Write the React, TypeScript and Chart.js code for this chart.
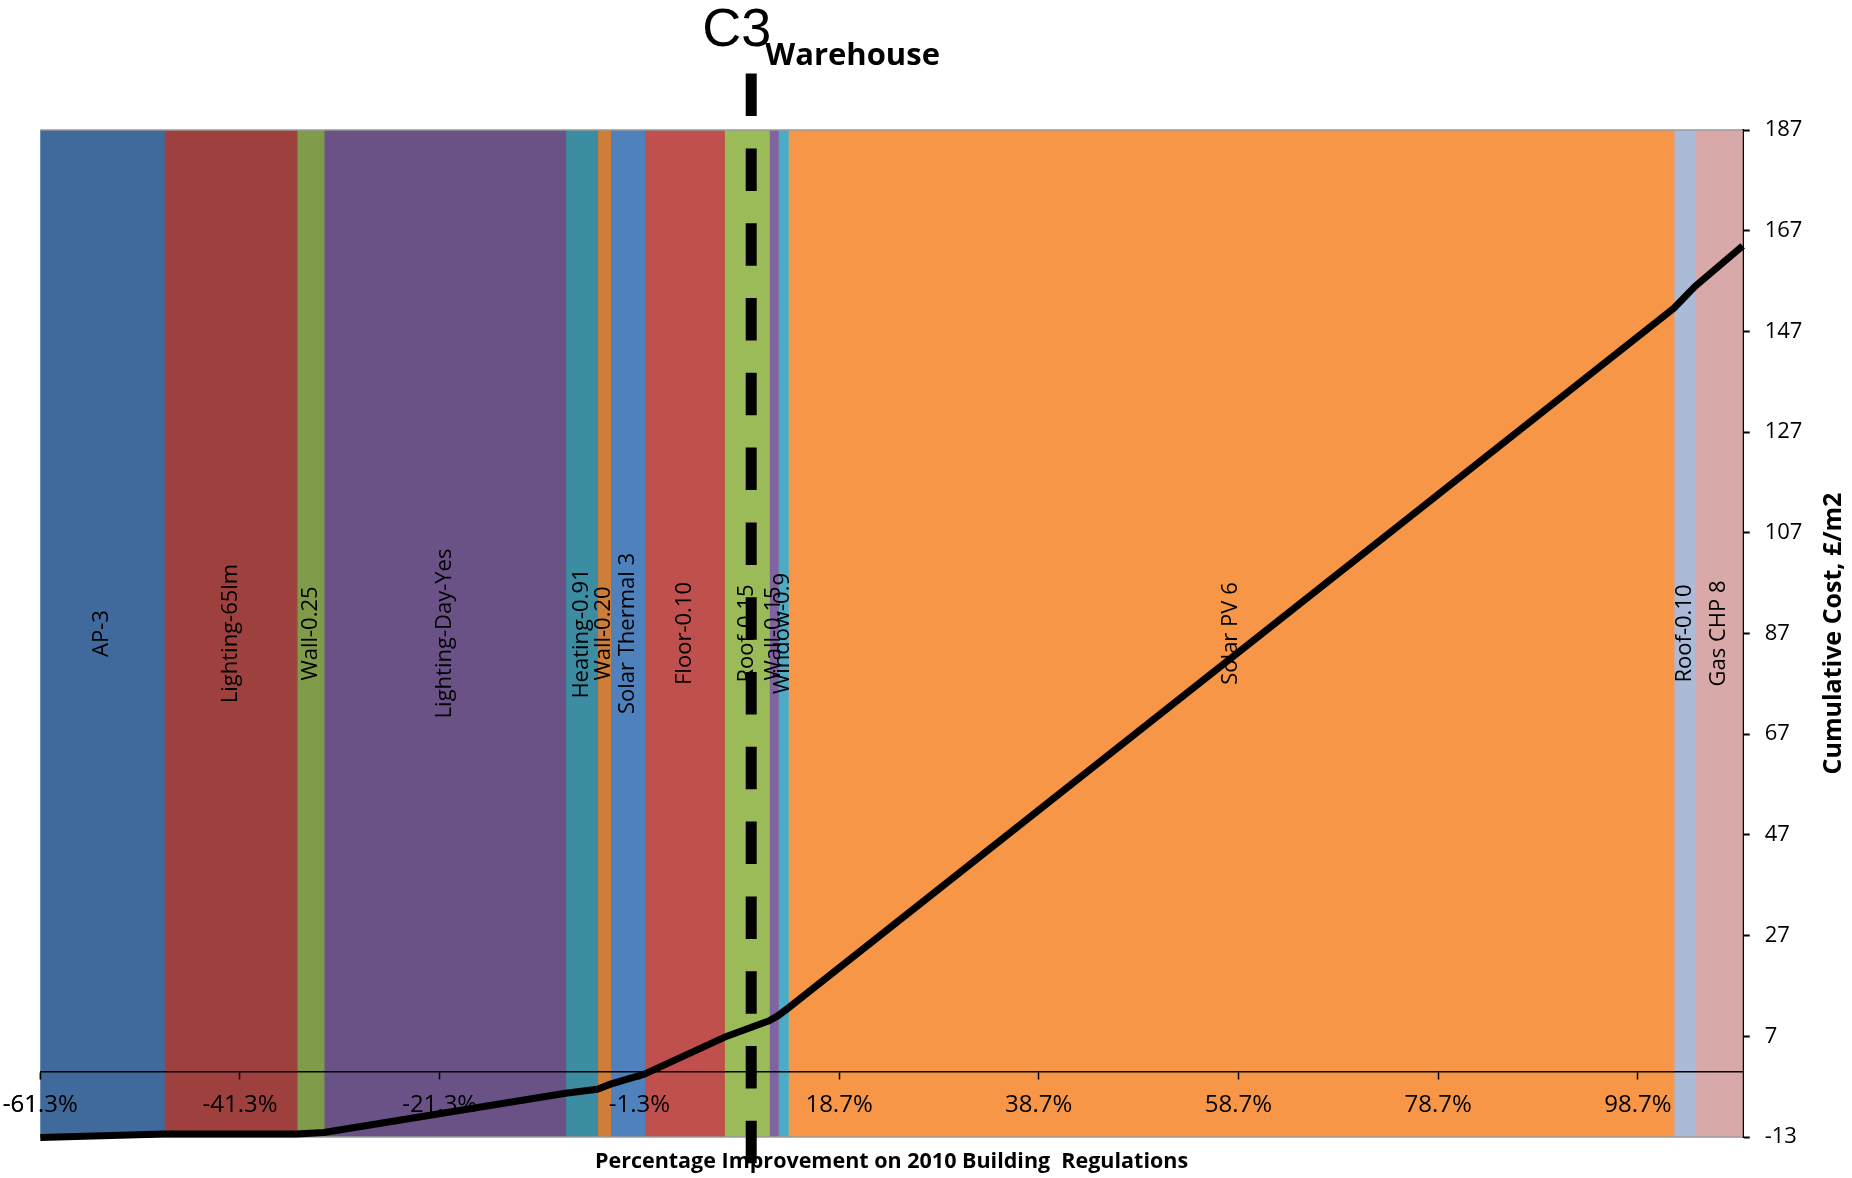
import React, { useEffect, useRef } from 'react';
import { Chart, registerables } from 'chart.js';

Chart.register(...registerables);

// ---- data ----
const BAND_LABELS = [
  'AP-3',
  'Lighting-65lm',
  'Wall-0.25',
  'Lighting-Day-Yes',
  'Heating-0.91',
  'Wall-0.20',
  'Solar Thermal 3',
  'Floor-0.10',
  'Roof-0.15',
  'Wall-0.15',
  'Window-0.9',
  'Solar PV 6',
  'Roof-0.10',
  'Gas CHP 8',
];
// cumulative % improvement at each band edge (15 edges for 14 bands)
const BAND_EDGES = [-61.3, -48.9, -35.6, -32.9, -8.7, -5.5, -4.2, -0.8, 7.2, 11.7, 12.6, 13.6, 102.3, 104.4, 109.2];
const BAND_COLORS = [
  '#40699C', '#9E403E', '#809B4A', '#6A5287', '#3C8CA2', '#CF7E3A', '#4F81BD',
  '#C0504D', '#9BBB59', '#8064A2', '#4BACC6', '#F79646', '#AABAD7', '#D9A8A8',
];
// cumulative cost (£/m2) at each band edge
const CUMULATIVE_COST = [-13.1, -12.4, -12.4, -12.1, -4.3, -3.5, -2.5, -0.5, 6.8, 10.1, 11.1, 12.6, 151.6, 155.9, 164.0];
const X_TICKS = [-61.3, -41.3, -21.3, -1.3, 18.7, 38.7, 58.7, 78.7, 98.7];
const Y_TICKS = [-13, 7, 27, 47, 67, 87, 107, 127, 147, 167, 187];
const TARGET_X = 9.9;
const TARGET_SPAN = [198.2, -21.2];

const X_TITLE = 'Percentage Improvement on 2010 Building  Regulations';
const Y_TITLE = 'Cumulative Cost, £/m2';
const TITLE_MAIN = 'C3';
const TITLE_SUB = 'Warehouse';

const X_MIN = BAND_EDGES[0];
const X_MAX = BAND_EDGES[BAND_EDGES.length - 1];
const Y_MIN = Y_TICKS[0];
const Y_MAX = Y_TICKS[Y_TICKS.length - 1];

const W = 1852;
const H = 1178;
const FONT = '"Open Sans", "Noto Sans", sans-serif';

const overlayPlugin = {
  id: 'overlay',
  beforeDatasetDraw(chart: any, args: any) {
    if (args.index !== BAND_LABELS.length) return;
    const { ctx, chartArea: ca, scales } = chart;
    const xs = scales.x;
    const ys = scales.y;
    ctx.save();
    ctx.strokeStyle = '#9a9a9a';
    ctx.lineWidth = 1.5;
    ctx.beginPath();
    ctx.moveTo(ca.left, ca.top);
    ctx.lineTo(ca.right, ca.top);
    ctx.moveTo(ca.left, ca.bottom);
    ctx.lineTo(ca.right, ca.bottom);
    ctx.stroke();

    ctx.fillStyle = '#000';
    ctx.font = `22px ${FONT}`;
    ctx.textAlign = 'center';
    ctx.textBaseline = 'middle';
    const yMid = ys.getPixelForValue((Y_MIN + Y_MAX) / 2);
    BAND_LABELS.forEach((t, i) => {
      const cx = (xs.getPixelForValue(BAND_EDGES[i]) + xs.getPixelForValue(BAND_EDGES[i + 1])) / 2;
      ctx.save();
      ctx.translate(cx, yMid);
      ctx.rotate(-Math.PI / 2);
      ctx.fillText(t, 0, 0);
      ctx.restore();
    });
    ctx.restore();
    // x axis (at y = 0) drawn over the bands, under the cost line
    xs.draw(ca);
  },
  afterDraw(chart: any) {
    const { ctx, chartArea: ca, scales } = chart;
    const tx = scales.x.getPixelForValue(TARGET_X);
    ctx.save();
    ctx.fillStyle = '#000';
    ctx.textBaseline = 'alphabetic';
    ctx.textAlign = 'left';
    ctx.font = '54px "Liberation Sans", Arial, sans-serif';
    ctx.fillText(TITLE_MAIN, tx - 49, 46);
    ctx.font = `bold 31px ${FONT}`;
    ctx.fillText(TITLE_SUB, tx + 14, 65);

    ctx.font = `bold 21.5px ${FONT}`;
    ctx.textAlign = 'center';
    ctx.fillText(X_TITLE, (ca.left + ca.right) / 2, ca.bottom + 31);

    ctx.font = `bold 25px ${FONT}`;
    ctx.textBaseline = 'middle';
    ctx.translate(1834, (ca.top + ca.bottom) / 2);
    ctx.rotate(-Math.PI / 2);
    ctx.fillText(Y_TITLE, 0, 0);
    ctx.restore();
  },
};

export default function App() {
  const ref = useRef<HTMLCanvasElement | null>(null);

  useEffect(() => {
    if (!ref.current) return;
    const bandSets = BAND_LABELS.map((label, i) => ({
      type: 'line' as const,
      label,
      data: [
        { x: BAND_EDGES[i], y: Y_MIN },
        { x: BAND_EDGES[i], y: Y_MAX },
        { x: BAND_EDGES[i + 1], y: Y_MAX },
        { x: BAND_EDGES[i + 1], y: Y_MIN },
      ],
      backgroundColor: BAND_COLORS[i],
      borderColor: BAND_COLORS[i],
      borderWidth: 1.2,
      pointRadius: 0,
      fill: 'start',
      tension: 0,
      order: 3,
    }));
    const costSet = {
      type: 'line' as const,
      label: 'Cumulative cost',
      data: BAND_EDGES.map((x, i) => ({ x, y: CUMULATIVE_COST[i] })),
      borderColor: '#000',
      borderWidth: 7,
      borderJoinStyle: 'round' as const,
      pointRadius: 0,
      fill: false,
      tension: 0,
      clip: false as any,
      order: 2,
    };
    const targetSet = {
      type: 'line' as const,
      label: 'C3 Warehouse',
      data: [
        { x: TARGET_X, y: TARGET_SPAN[0] },
        { x: TARGET_X, y: TARGET_SPAN[1] },
      ],
      borderColor: '#000',
      borderWidth: 11,
      borderDash: [42.5, 32.3],
      borderCapStyle: 'butt' as const,
      pointRadius: 0,
      fill: false,
      clip: false as any,
      order: 1,
    };

    const chart = new Chart(ref.current, {
      type: 'line',
      data: { datasets: [...bandSets, costSet, targetSet] as any },
      options: {
        responsive: false,
        animation: false,
        devicePixelRatio: 1,
        events: [],
        layout: { padding: { left: 40.3, right: 0, top: 130, bottom: 41 } },
        plugins: {
          legend: { display: false },
          tooltip: { enabled: false },
          title: { display: false },
        },
        scales: {
          x: {
            type: 'linear',
            min: X_MIN,
            max: X_MAX,
            position: { y: 0 } as any,
            z: 0,
            afterBuildTicks: (s: any) => {
              s.ticks = X_TICKS.map((v) => ({ value: v }));
            },
            afterFit: (s: any) => {
              s.paddingLeft = 0;
              s.paddingRight = 0;
            },
            ticks: {
              autoSkip: false,
              maxRotation: 0,
              minRotation: 0,
              padding: 12,
              color: '#000',
              font: { family: FONT, size: 24 },
              callback: (v: any) => `${Number(v).toFixed(1)}%`,
            },
            grid: {
              drawOnChartArea: false,
              drawTicks: true,
              tickLength: 7,
              tickWidth: 1.5,
              tickColor: '#000',
            },
            border: { display: true, color: '#000', width: 1.5 },
          },
          y: {
            type: 'linear',
            position: 'right',
            min: Y_MIN,
            max: Y_MAX,
            z: 1,
            afterBuildTicks: (s: any) => {
              s.ticks = Y_TICKS.map((v) => ({ value: v }));
            },
            afterFit: (s: any) => {
              s.width = 109.3;
            },
            ticks: {
              autoSkip: false,
              padding: 15,
              color: '#000',
              font: { family: FONT, size: 22 },
              callback: (v: any) => `${v}`,
            },
            grid: {
              drawOnChartArea: false,
              drawTicks: true,
              tickLength: 7,
              tickWidth: 2,
              tickColor: '#000',
            },
            border: { display: true, color: '#000', width: 2 },
          },
        },
      } as any,
      plugins: [overlayPlugin],
    });
    return () => chart.destroy();
  }, []);

  return (
    <div style={{ position: 'absolute', left: 0, top: 0, width: W, height: H, background: '#fff' }}>
      <canvas ref={ref} width={W} height={H} style={{ display: 'block', width: W, height: H }} />
    </div>
  );
}
